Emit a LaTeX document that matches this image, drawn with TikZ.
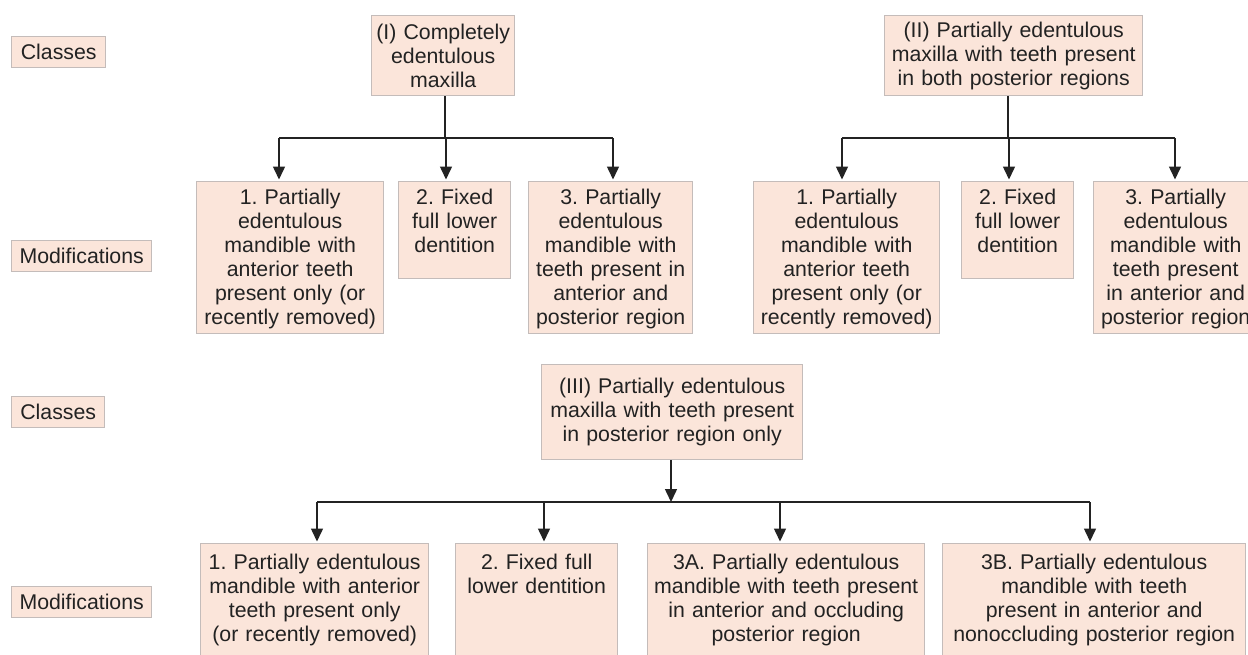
\documentclass[tikz,border=0pt]{standalone}
\usepackage{fontspec}
\setmainfont{Liberation Sans}
\usetikzlibrary{arrows.meta,calc}
\definecolor{boxfill}{RGB}{251,229,218}
\definecolor{boxline}{RGB}{196,188,186}
\definecolor{ink}{RGB}{34,34,34}
\definecolor{conncol}{RGB}{35,35,35}
\frenchspacing
\begin{document}
\begin{tikzpicture}[x=1pt,y=-1pt,
  box/.style={draw=boxline, line width=1.4pt, fill=boxfill, inner sep=0pt, anchor=north west},
  lblbox/.style={box, font=\fontsize{21.3}{24}\selectfont, text=ink, align=center},
  txt/.style={inner sep=0pt, align=center, font=\fontsize{21.3}{24}\selectfont, text=ink, anchor=base},
  conn/.style={draw=conncol, line width=1.5pt},
  arr/.style={conn, -{Triangle[length=13pt,width=12pt]}},
  arrbox/.style={arr, shorten >=1.5pt},
]
\useasboundingbox (0,0) rectangle (1248,654);
\fill[white] (0,0) rectangle (1248,654);
\clip (0,0) rectangle (1248,654);

% ---------- side labels ----------
\node[lblbox, minimum width=94pt, minimum height=31pt] (clsA) at (11,36) {Classes};
\node[lblbox, minimum width=140pt, minimum height=31pt] (modA) at (11,240) {Modifications};
\node[lblbox, minimum width=93pt, minimum height=31pt] (clsB) at (11,396) {Classes};
\node[lblbox, minimum width=140pt, minimum height=31pt] (modB) at (11,586) {Modifications};

% ---------- class I ----------
\node[lblbox, minimum width=143pt, minimum height=80pt, text width=143pt] (c1) at (371,15)
  {(I) Completely\\edentulous\\maxilla};
\coordinate (j1) at (445,138);
\coordinate (a11) at (279,138);
\coordinate (a12) at (446,138);
\coordinate (a13) at (613,138);

\node[box, minimum width=187pt, minimum height=152pt] (m11) at (196,181) {};
\node[txt, text width=200pt] (m11t) at ([yshift=-23pt]m11.north)
  {1. Partially\\edentulous\\mandible with\\anterior teeth\\present only (or\\recently removed)};
\node[box, minimum width=112pt, minimum height=97pt] (m12) at (398,181) {};
\node[txt, text width=120pt] (m12t) at ([yshift=-23pt]m12.north)
  {2. Fixed\\full lower\\dentition};
\node[box, minimum width=164pt, minimum height=152pt] (m13) at (528,181) {};
\node[txt, text width=180pt] (m13t) at ([yshift=-23pt]m13.north)
  {3. Partially\\edentulous\\mandible with\\teeth present in\\anterior and\\posterior region};

\draw[conn] (c1.south -| j1) -- (j1);
\draw[conn] (a11) -- (a13);
\draw[arrbox] (a11) -- (a11 |- m11.north);
\draw[arrbox] (a12) -- (a12 |- m12.north);
\draw[arrbox] (a13) -- (a13 |- m13.north);

% ---------- class II ----------
\node[lblbox, minimum width=258pt, minimum height=80pt, text width=258pt] (c2) at (884,15)
  {(II) Partially edentulous\\maxilla with teeth present\\in both posterior regions};
\coordinate (j2) at (1008,138);
\coordinate (a21) at (842,138);
\coordinate (a22) at (1009,138);
\coordinate (a23) at (1175,138);

\node[box, minimum width=186pt, minimum height=152pt] (m21) at (753,181) {};
\node[txt, text width=200pt] (m21t) at ([yshift=-23pt]m21.north)
  {1. Partially\\edentulous\\mandible with\\anterior teeth\\present only (or\\recently removed)};
\node[box, minimum width=112pt, minimum height=97pt] (m22) at (961,181) {};
\node[txt, text width=120pt] (m22t) at ([yshift=-23pt]m22.north)
  {2. Fixed\\full lower\\dentition};
\node[box, minimum width=164pt, minimum height=152pt] (m23) at (1093,181) {};
\node[txt, text width=180pt] (m23t) at ([yshift=-23pt]m23.north)
  {3. Partially\\edentulous\\mandible with\\teeth present\\in anterior and\\posterior region};

\draw[conn] (c2.south -| j2) -- (j2);
\draw[conn] (a21) -- (a23);
\draw[arrbox] (a21) -- (a21 |- m21.north);
\draw[arrbox] (a22) -- (a22 |- m22.north);
\draw[arrbox] (a23) -- (a23 |- m23.north);

% ---------- class III ----------
\node[lblbox, minimum width=261pt, minimum height=95pt, text width=261pt] (c3) at (541,364)
  {(III) Partially edentulous\\maxilla with teeth present\\in posterior region only};
\coordinate (j3) at (671,502);
\coordinate (a31) at (317,502);
\coordinate (a32) at (544,502);
\coordinate (a33) at (780,502);
\coordinate (a34) at (1090,502);

\node[box, minimum width=228pt, minimum height=140pt] (b1) at (200,543) {};
\node[txt, text width=240pt] (b1t) at ([yshift=-26pt]b1.north)
  {1. Partially edentulous\\mandible with anterior\\teeth present only\\(or recently removed)};
\node[box, minimum width=162pt, minimum height=140pt] (b2) at (455,543) {};
\node[txt, text width=170pt] (b2t) at ([yshift=-26pt]b2.north)
  {2. Fixed full\\lower dentition};
\node[box, minimum width=277pt, minimum height=140pt] (b3) at (647,543) {};
\node[txt, text width=290pt] (b3t) at ([yshift=-26pt]b3.north)
  {3A. Partially edentulous\\mandible with teeth present\\in anterior and occluding\\posterior region};
\node[box, minimum width=303pt, minimum height=140pt] (b4) at (942,543) {};
\node[txt, text width=310pt] (b4t) at ([yshift=-26pt]b4.north)
  {3B. Partially edentulous\\mandible with teeth\\present in anterior and\\nonoccluding posterior region};

\draw[arr] (c3.south -| j3) -- (j3);
\draw[conn] (a31) -- (a34);
\draw[arrbox] (a31) -- (a31 |- b1.north);
\draw[arrbox] (a32) -- (a32 |- b2.north);
\draw[arrbox] (a33) -- (a33 |- b3.north);
\draw[arrbox] (a34) -- (a34 |- b4.north);
\end{tikzpicture}
\end{document}
